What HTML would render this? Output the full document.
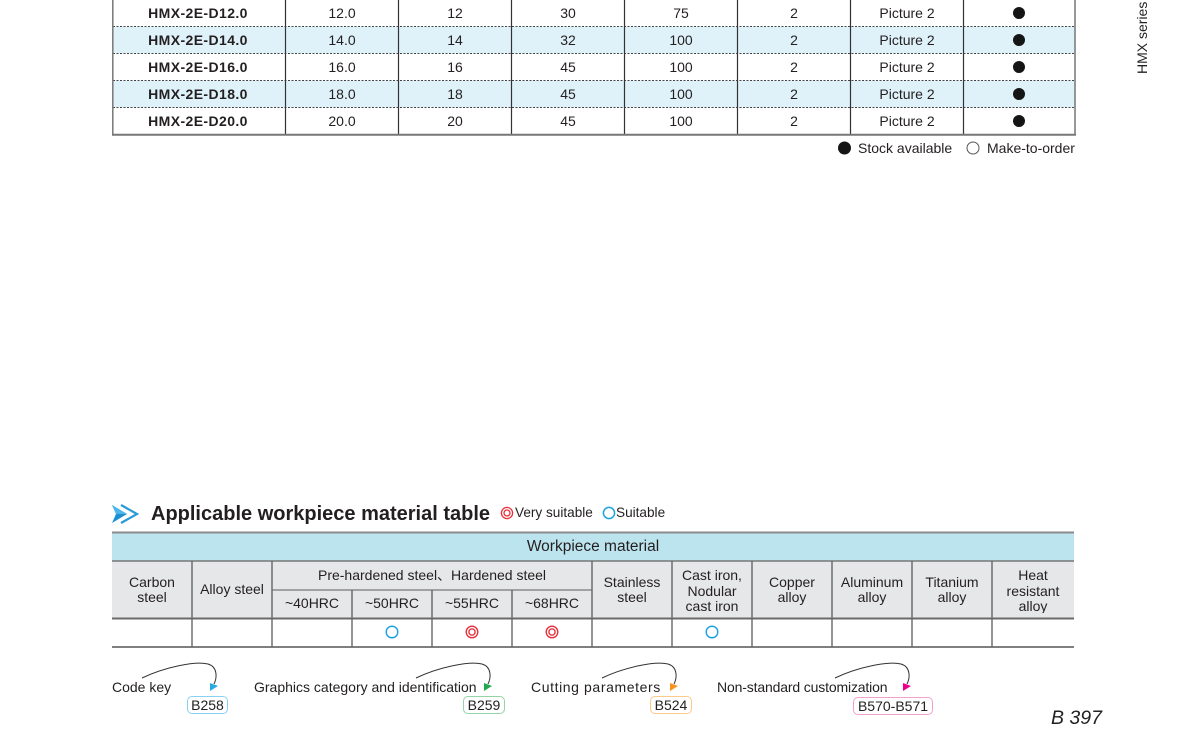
<!DOCTYPE html>
<html><head><meta charset="utf-8">
<style>
*{margin:0;padding:0;box-sizing:border-box}
body{width:1187px;height:734px;background:#fff;position:relative;overflow:hidden;font-family:"Liberation Sans",Arial,sans-serif;color:#231f20}
svg{position:absolute;left:0;top:0}
.t{position:absolute;height:16px;line-height:16px;font-size:14px;text-align:center;white-space:nowrap}
.b{font-weight:bold;letter-spacing:0.4px}
.c{position:absolute;display:flex;align-items:center;justify-content:center;text-align:center;font-size:14px;line-height:15.5px;overflow:hidden}
.box{position:absolute;height:18px;border:1px solid;border-radius:5px;font-size:14px;line-height:16px;text-align:center;color:#222}
</style></head><body>
<svg width="1187" height="734" viewBox="0 0 1187 734">
  <!-- top table -->
  <rect x="113" y="26.5" width="962" height="27" fill="#dff2fa"/>
  <rect x="113" y="80.5" width="962" height="27" fill="#dff2fa"/>
  <g stroke="#444" stroke-width="1" stroke-dasharray="2 1.5">
    <line x1="113" y1="26.5" x2="1075" y2="26.5"/>
    <line x1="113" y1="53.5" x2="1075" y2="53.5"/>
    <line x1="113" y1="80.5" x2="1075" y2="80.5"/>
    <line x1="113" y1="107.5" x2="1075" y2="107.5"/>
  </g>
  <g stroke="#333" stroke-width="1.2">
    <line x1="285.5" y1="0" x2="285.5" y2="134"/>
    <line x1="398.5" y1="0" x2="398.5" y2="134"/>
    <line x1="511.5" y1="0" x2="511.5" y2="134"/>
    <line x1="624.5" y1="0" x2="624.5" y2="134"/>
    <line x1="737.5" y1="0" x2="737.5" y2="134"/>
    <line x1="850.5" y1="0" x2="850.5" y2="134"/>
    <line x1="963.5" y1="0" x2="963.5" y2="134"/>
  </g>
  <line x1="112.8" y1="0" x2="112.8" y2="135" stroke="#777" stroke-width="1.5"/>
  <line x1="1075" y1="0" x2="1075" y2="135" stroke="#777" stroke-width="1.5"/>
  <line x1="112" y1="134.7" x2="1076" y2="134.7" stroke="#777" stroke-width="2"/>
  <g fill="#151515">
    <circle cx="1019" cy="13" r="6"/>
    <circle cx="1019" cy="40" r="6"/>
    <circle cx="1019" cy="67" r="6"/>
    <circle cx="1019" cy="94" r="6"/>
    <circle cx="1019" cy="121" r="6"/>
    <circle cx="844.5" cy="148" r="6.5"/>
  </g>
  <circle cx="973" cy="148" r="6" fill="none" stroke="#555" stroke-width="1"/>

  <!-- title icon -->
  <polygon points="112,505 127,514 112,523 116,514" fill="#1b8fd2"/>
  <polygon points="112,505 127,514 116,514" fill="#4fb6ea"/>
  <polyline points="121,505 137,514 121,523" fill="none" stroke="#2a9ad8" stroke-width="2.2"/>
  <!-- legend marks -->
  <circle cx="507" cy="513" r="5.6" fill="none" stroke="#e8303c" stroke-width="1.3"/>
  <circle cx="507" cy="513" r="3" fill="none" stroke="#e8303c" stroke-width="1.3"/>
  <circle cx="609" cy="513" r="5.6" fill="none" stroke="#1fa3e0" stroke-width="1.5"/>

  <!-- bottom table -->
  <rect x="112" y="532" width="962" height="29" fill="#bce4ee"/>
  <rect x="112" y="561" width="962" height="57" fill="#e6e7e8"/>
  <line x1="112" y1="532.5" x2="1074" y2="532.5" stroke="#8a8a8a" stroke-width="2"/>
  <line x1="112" y1="561" x2="1074" y2="561" stroke="#777" stroke-width="1.5"/>
  <line x1="272" y1="590" x2="592" y2="590" stroke="#777" stroke-width="1.2"/>
  <line x1="112" y1="618.5" x2="1074" y2="618.5" stroke="#6a6a6a" stroke-width="2"/>
  <line x1="112" y1="647" x2="1074" y2="647" stroke="#555" stroke-width="1.5"/>
  <g stroke="#666" stroke-width="1.4">
    <line x1="192" y1="561" x2="192" y2="647"/>
    <line x1="272" y1="561" x2="272" y2="647"/>
    <line x1="592" y1="561" x2="592" y2="647"/>
    <line x1="672" y1="561" x2="672" y2="647"/>
    <line x1="752" y1="561" x2="752" y2="647"/>
    <line x1="832" y1="561" x2="832" y2="647"/>
    <line x1="912" y1="561" x2="912" y2="647"/>
    <line x1="992" y1="561" x2="992" y2="647"/>
    <line x1="352" y1="590" x2="352" y2="647"/>
    <line x1="432" y1="590" x2="432" y2="647"/>
    <line x1="512" y1="590" x2="512" y2="647"/>
  </g>
  <circle cx="392" cy="632" r="5.8" fill="none" stroke="#1fa3e0" stroke-width="1.5"/>
  <circle cx="712" cy="632" r="5.8" fill="none" stroke="#1fa3e0" stroke-width="1.5"/>
  <circle cx="472" cy="632" r="5.8" fill="none" stroke="#e8303c" stroke-width="1.4"/>
  <circle cx="472" cy="632" r="3.1" fill="none" stroke="#e8303c" stroke-width="1.4"/>
  <circle cx="552" cy="632" r="5.8" fill="none" stroke="#e8303c" stroke-width="1.4"/>
  <circle cx="552" cy="632" r="3.1" fill="none" stroke="#e8303c" stroke-width="1.4"/>

  <!-- footer arrows -->
  <g fill="none" stroke="#333" stroke-width="1">
    <path d="M142,678 C165,667 195,661 208,664 C218,667 217,678 214,684"/>
    <path d="M416,678 C439,667 469,661 482,664 C492,667 491,678 488,684"/>
    <path d="M602,678 C625,667 655,661 668,664 C678,667 677,678 674,684"/>
    <path d="M835,678 C858,667 888,661 901,664 C911,667 910,678 907,684"/>
  </g>
  <polygon points="210,683 218,686 210,691" fill="#29abe2"/>
  <polygon points="484,683 492,686 484,691" fill="#1fa84f"/>
  <polygon points="670,683 678,686 670,691" fill="#f7941d"/>
  <polygon points="903,683 911,686 903,691" fill="#ec008c"/>
</svg>

<!-- top table text -->
<div class="t b" style="left:112px;width:172px;top:5px">HMX-2E-D12.0</div>
<div class="t b" style="left:112px;width:172px;top:32px">HMX-2E-D14.0</div>
<div class="t b" style="left:112px;width:172px;top:59px">HMX-2E-D16.0</div>
<div class="t b" style="left:112px;width:172px;top:86px">HMX-2E-D18.0</div>
<div class="t b" style="left:112px;width:172px;top:113px">HMX-2E-D20.0</div>

<div class="t" style="left:286px;width:112px;top:5px">12.0</div>
<div class="t" style="left:286px;width:112px;top:32px">14.0</div>
<div class="t" style="left:286px;width:112px;top:59px">16.0</div>
<div class="t" style="left:286px;width:112px;top:86px">18.0</div>
<div class="t" style="left:286px;width:112px;top:113px">20.0</div>

<div class="t" style="left:399px;width:112px;top:5px">12</div>
<div class="t" style="left:399px;width:112px;top:32px">14</div>
<div class="t" style="left:399px;width:112px;top:59px">16</div>
<div class="t" style="left:399px;width:112px;top:86px">18</div>
<div class="t" style="left:399px;width:112px;top:113px">20</div>

<div class="t" style="left:512px;width:112px;top:5px">30</div>
<div class="t" style="left:512px;width:112px;top:32px">32</div>
<div class="t" style="left:512px;width:112px;top:59px">45</div>
<div class="t" style="left:512px;width:112px;top:86px">45</div>
<div class="t" style="left:512px;width:112px;top:113px">45</div>

<div class="t" style="left:625px;width:112px;top:5px">75</div>
<div class="t" style="left:625px;width:112px;top:32px">100</div>
<div class="t" style="left:625px;width:112px;top:59px">100</div>
<div class="t" style="left:625px;width:112px;top:86px">100</div>
<div class="t" style="left:625px;width:112px;top:113px">100</div>

<div class="t" style="left:738px;width:112px;top:5px">2</div>
<div class="t" style="left:738px;width:112px;top:32px">2</div>
<div class="t" style="left:738px;width:112px;top:59px">2</div>
<div class="t" style="left:738px;width:112px;top:86px">2</div>
<div class="t" style="left:738px;width:112px;top:113px">2</div>

<div class="t" style="left:851px;width:112px;top:5px">Picture 2</div>
<div class="t" style="left:851px;width:112px;top:32px">Picture 2</div>
<div class="t" style="left:851px;width:112px;top:59px">Picture 2</div>
<div class="t" style="left:851px;width:112px;top:86px">Picture 2</div>
<div class="t" style="left:851px;width:112px;top:113px">Picture 2</div>

<div class="t" style="left:858px;top:140px;text-align:left">Stock available</div>
<div class="t" style="left:987px;top:140px;text-align:left">Make-to-order</div>

<div style="position:absolute;left:1134px;top:1px;width:16px;height:73px;font-size:14px;line-height:16px;writing-mode:vertical-rl;transform:rotate(180deg);white-space:nowrap;color:#231f20">HMX series</div>

<!-- title -->
<div style="position:absolute;left:151px;top:502px;font-size:20px;line-height:24px;font-weight:bold;white-space:nowrap">Applicable workpiece material table</div>
<div style="position:absolute;left:515px;top:505px;font-size:13.6px;line-height:16px;white-space:nowrap">Very suitable</div>
<div style="position:absolute;left:616px;top:505px;font-size:13.6px;line-height:16px;white-space:nowrap">Suitable</div>

<!-- bottom table text -->
<div class="c" style="left:112px;top:533px;width:962px;height:28px;font-size:15.5px">Workpiece material</div>
<div class="c" style="left:112px;top:562px;width:80px;height:56px">Carbon<br>steel</div>
<div class="c" style="left:192px;top:562px;width:80px;height:56px">Alloy steel</div>
<div class="c" style="left:272px;top:562px;width:320px;height:28px">Pre-hardened steel、Hardened steel</div>
<div class="c" style="left:272px;top:590px;width:80px;height:28px">~40HRC</div>
<div class="c" style="left:352px;top:590px;width:80px;height:28px">~50HRC</div>
<div class="c" style="left:432px;top:590px;width:80px;height:28px">~55HRC</div>
<div class="c" style="left:512px;top:590px;width:80px;height:28px">~68HRC</div>
<div class="c" style="left:592px;top:562px;width:80px;height:56px">Stainless<br>steel</div>
<div style="position:absolute;left:672px;top:568px;width:80px;height:45px;overflow:hidden;text-align:center;font-size:14px;line-height:15.7px">Cast iron,<br>Nodular<br>cast iron</div>
<div class="c" style="left:752px;top:562px;width:80px;height:56px">Copper<br>alloy</div>
<div class="c" style="left:832px;top:562px;width:80px;height:56px">Aluminum<br>alloy</div>
<div class="c" style="left:912px;top:562px;width:80px;height:56px">Titanium<br>alloy</div>
<div style="position:absolute;left:992px;top:568px;width:82px;height:45px;overflow:hidden;text-align:center;font-size:14px;line-height:15.7px">Heat<br>resistant<br>alloy</div>

<!-- footer -->
<div class="t" style="left:112px;top:679px;text-align:left">Code key</div>
<div class="t" style="left:254px;top:679px;text-align:left">Graphics category and identification</div>
<div class="t" style="left:531px;top:679px;text-align:left;letter-spacing:0.6px">Cutting parameters</div>
<div class="t" style="left:717px;top:679px;text-align:left;letter-spacing:-0.15px">Non-standard customization</div>

<div class="box" style="left:187px;top:696px;width:41px;border-color:#86d2f2">B258</div>
<div class="box" style="left:463px;top:696px;width:42px;border-color:#92d4a8">B259</div>
<div class="box" style="left:650px;top:696px;width:42px;border-color:#fbc98a">B524</div>
<div class="box" style="left:853px;top:697px;width:80px;border-color:#f4a0cc">B570-B571</div>

<div style="position:absolute;left:1051px;top:706px;font-size:19.5px;line-height:24px;font-style:italic;white-space:nowrap;color:#222">B 397</div>
</body></html>
